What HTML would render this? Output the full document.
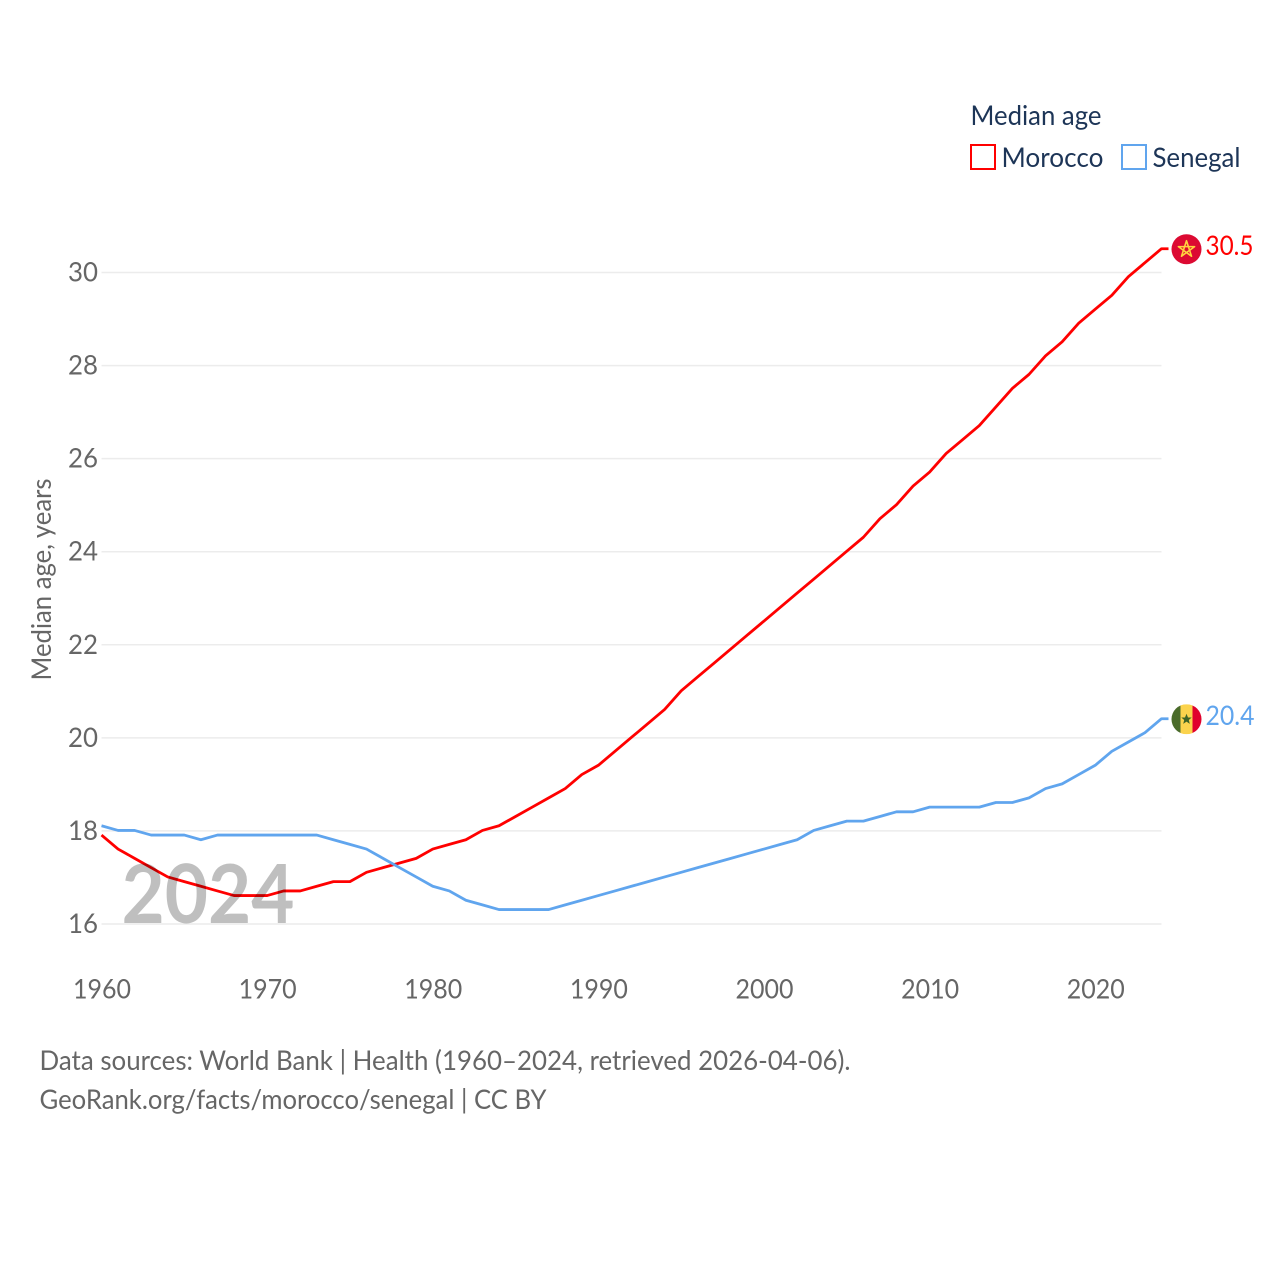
<!DOCTYPE html>
<html lang="en">
<head>
<meta charset="utf-8">
<title>Median age: Morocco and Senegal</title>
<style>
html,body{margin:0;padding:0;background:#fff;}
svg{display:block;}
text{font-family:"Lato","Carlito","Liberation Sans",sans-serif;}
</style>
</head>
<body>
<svg id="chart" xmlns="http://www.w3.org/2000/svg" width="1280" height="1280" viewBox="0 0 1280 1280">
  <defs>
    <clipPath id="flag-clip"><circle cx="0" cy="0" r="15"></circle></clipPath>
  </defs>
  <rect x="0" y="0" width="1280" height="1280" fill="#ffffff"></rect>
  <g id="grid"></g>
  <g id="y-ticks"></g>
  <g id="x-ticks"></g>
  <text transform="translate(51,680.5) rotate(-90)" font-size="27" fill="#666666" textLength="202" lengthAdjust="spacingAndGlyphs">Median age, years</text>
  <g id="series"></g>
  <g id="flags"></g>
  <text id="year-watermark" x="121.5" y="923" font-size="81" font-weight="700" fill="#000000" fill-opacity="0.25" textLength="173" lengthAdjust="spacingAndGlyphs">2024</text>

  <g>
    <text x="970.5" y="125" font-size="27" fill="#1d3557" textLength="131" lengthAdjust="spacingAndGlyphs">Median age</text>
    <g>
      <rect x="971" y="145" width="24" height="24" fill="none" stroke="#ff0000" stroke-width="2"></rect>
      <text x="1001.5" y="167" font-size="27" fill="#1d3557" textLength="102" lengthAdjust="spacingAndGlyphs">Morocco</text>
    </g>
    <g>
      <rect x="1122" y="145" width="24" height="24" fill="none" stroke="#60a5ee" stroke-width="2"></rect>
      <text x="1152.5" y="167" font-size="27" fill="#1d3557" textLength="88" lengthAdjust="spacingAndGlyphs">Senegal</text>
    </g>
  </g>

  <text x="39.5" y="1070" font-size="27" fill="#666666" textLength="811" lengthAdjust="spacingAndGlyphs">Data sources: World Bank | Health (1960–2024, retrieved 2026-04-06).</text>
  <text x="39.5" y="1109" font-size="27" fill="#666666" textLength="507" lengthAdjust="spacingAndGlyphs">GeoRank.org/facts/morocco/senegal | CC BY</text>
</svg>
<script>
const years = [1960,1961,1962,1963,1964,1965,1966,1967,1968,1969,1970,1971,1972,1973,1974,1975,1976,1977,1978,1979,1980,1981,1982,1983,1984,1985,1986,1987,1988,1989,1990,1991,1992,1993,1994,1995,1996,1997,1998,1999,2000,2001,2002,2003,2004,2005,2006,2007,2008,2009,2010,2011,2012,2013,2014,2015,2016,2017,2018,2019,2020,2021,2022,2023,2024];
const moroccoValues = [17.9,17.6,17.4,17.2,17.0,16.9,16.8,16.7,16.6,16.6,16.6,16.7,16.7,16.8,16.9,16.9,17.1,17.2,17.3,17.4,17.6,17.7,17.8,18.0,18.1,18.3,18.5,18.7,18.9,19.2,19.4,19.7,20.0,20.3,20.6,21.0,21.3,21.6,21.9,22.2,22.5,22.8,23.1,23.4,23.7,24.0,24.3,24.7,25.0,25.4,25.7,26.1,26.4,26.7,27.1,27.5,27.8,28.2,28.5,28.9,29.2,29.5,29.9,30.2,30.5];
const senegalValues = [18.1,18.0,18.0,17.9,17.9,17.9,17.8,17.9,17.9,17.9,17.9,17.9,17.9,17.9,17.8,17.7,17.6,17.4,17.2,17.0,16.8,16.7,16.5,16.4,16.3,16.3,16.3,16.3,16.4,16.5,16.6,16.7,16.8,16.9,17.0,17.1,17.2,17.3,17.4,17.5,17.6,17.7,17.8,18.0,18.1,18.2,18.2,18.3,18.4,18.4,18.5,18.5,18.5,18.5,18.6,18.6,18.7,18.9,19.0,19.2,19.4,19.7,19.9,20.1,20.4];
const yTickValues = [16,18,20,22,24,26,28,30];
const xTickValues = [1960,1970,1980,1990,2000,2010,2020];

const NS = 'http://www.w3.org/2000/svg';
const plotLeft = 101.5, plotRight = 1161.5;
const xScale = v => plotLeft + (v - 1960) * (plotRight - plotLeft) / 64;
const yScale = v => 924 - (v - 16) * (924 - 272.5) / 14;
const lineY = v => yScale(v) - 0.5;

function make(tag, attrs, parent, text) {
  const el = document.createElementNS(NS, tag);
  for (const k in attrs) el.setAttribute(k, attrs[k]);
  if (text !== undefined) el.textContent = text;
  parent.appendChild(el);
  return el;
}

const gridGroup = document.getElementById('grid');
const yTickGroup = document.getElementById('y-ticks');
const xTickGroup = document.getElementById('x-ticks');
const seriesGroup = document.getElementById('series');
const flagGroup = document.getElementById('flags');

yTickValues.forEach(v => {
  const line = make('line', {x1: plotLeft, x2: plotRight, y1: yScale(v), y2: yScale(v), stroke: '#ececec', 'stroke-width': 1.5}, gridGroup);
  
  
  const label = make('text', {x: 98, y: yScale(v) + 9, 'text-anchor': 'end', 'font-size': 27, fill: '#666666', textLength: 30, lengthAdjust: 'spacingAndGlyphs'}, yTickGroup, String(v));
  
  
});

xTickValues.forEach(v => {
  const label = make('text', {x: xScale(v) + 0.5, y: 998.5, 'text-anchor': 'middle', 'font-size': 27, fill: '#666666', textLength: 58, lengthAdjust: 'spacingAndGlyphs'}, xTickGroup, String(v));
  
  
});

function linePath(values) {
  const pts = values.map((v, i) => xScale(years[i]).toFixed(2) + ' ' + lineY(v).toFixed(2));
  const last = values[values.length - 1];
  return 'M' + pts.join('L') + 'L' + (plotRight + 7) + ' ' + lineY(last).toFixed(2);
}

const moroccoLine = make('path', {d: linePath(moroccoValues), fill: 'none', stroke: '#ff0000', 'stroke-width': 2.8, 'stroke-linejoin': 'round'}, seriesGroup);



const senegalLine = make('path', {d: linePath(senegalValues), fill: 'none', stroke: '#60a5ee', 'stroke-width': 2.8, 'stroke-linejoin': 'round'}, seriesGroup);



const moroccoLast = moroccoValues[moroccoValues.length - 1];
const senegalLast = senegalValues[senegalValues.length - 1];

const moroccoFlag = make('g', {transform: 'translate(1186.5,' + yScale(moroccoLast).toFixed(2) + ')'}, flagGroup);


make('circle', {cx: 0, cy: 0, r: 15, fill: '#dc0a32'}, moroccoFlag);
make('polygon', {points: '0,-8.5 5,7 -8.1,-2.6 8.1,-2.6 -5,7', fill: 'none', stroke: '#ffd23f', 'stroke-width': 1.6, 'stroke-linejoin': 'round'}, moroccoFlag);

const senegalFlag = make('g', {transform: 'translate(1186.5,' + yScale(senegalLast).toFixed(2) + ')', 'clip-path': 'url(#flag-clip)'}, flagGroup);


make('rect', {x: -15, y: -15, width: 9, height: 30, fill: '#4a6b2a'}, senegalFlag);
make('rect', {x: -6, y: -15, width: 12, height: 30, fill: '#fbd34d'}, senegalFlag);
make('rect', {x: 6, y: -15, width: 9, height: 30, fill: '#e0002d'}, senegalFlag);
make('polygon', {points: '0,-5.5 1.5,-1.7 5.2,-1.7 2.3,0.8 3.3,4.6 0,2.4 -3.3,4.6 -2.3,0.8 -5.2,-1.7 -1.5,-1.7', fill: '#3f6428'}, senegalFlag);

const moroccoValueLabel = make('text', {x: 1205.5, y: yScale(moroccoLast) + 6, 'font-size': 27, fill: '#ff0000', textLength: 48, lengthAdjust: 'spacingAndGlyphs'}, flagGroup, moroccoLast.toFixed(1));



const senegalValueLabel = make('text', {x: 1205.5, y: yScale(senegalLast) + 6, 'font-size': 27, fill: '#60a5ee', textLength: 49, lengthAdjust: 'spacingAndGlyphs'}, flagGroup, senegalLast.toFixed(1));


</script>
</body>
</html>
